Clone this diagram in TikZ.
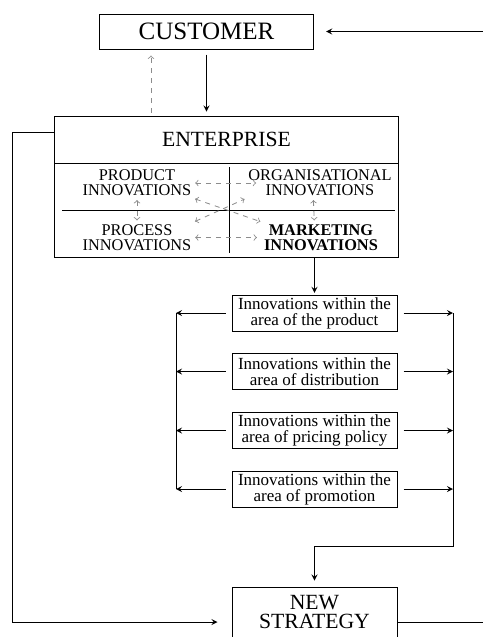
\documentclass[tikz,border=0pt]{standalone}
\usepackage{fontspec}
\setmainfont{Liberation Serif}
\usepackage{tikz}
\usetikzlibrary{arrows.meta}

\begin{document}
\begin{tikzpicture}[x = 0.6pt, y = -0.6pt, line width = 0.6pt,
    box/.style = {draw, align = center, inner sep = 0, minimum width = 99pt, minimum height = 21.6pt, font = \fontsize{10.2}{9.5}\selectfont},
    quad/.style = {align = center, inner sep = 1pt, font = \fontsize{9.8}{9.2}\selectfont},
    dasharr/.style = {draw = lgray, dashed, line width = 0.5pt, to-to, shorten < = 1pt, shorten > = 1pt}]
    \definecolor{lgray}{RGB}{140,140,140}
    \useasboundingbox (0,0) rectangle (483,637);
    \clip (0,0) rectangle (483,637);
    \node (ID_CUST)[draw, minimum width = 129pt, minimum height = 21pt, inner sep = 0, font = \fontsize{15}{15}\selectfont] at (206.5,31.5) {CUSTOMER};
    \node (ID_ENT)[draw, minimum width = 207pt, minimum height = 84.6pt, inner sep = 0] at (226.5,186.5) {};
    \node (ID_ENT_T)[inner sep = 0, font = \fontsize{13}{13}\selectfont] at (226.5,139) {ENTERPRISE};
    \draw (54,163) -- (399,163);
    \draw (62,210) -- (395,210);
    \draw (229,167) -- (229,253);
    \node (ID_PROD)[quad] at (137,183) {PRODUCT\\INNOVATIONS};
    \node (ID_ORG)[quad] at (320,183) {ORGANISATIONAL\\INNOVATIONS};
    \node (ID_PROC)[quad] at (137,237.5) {PROCESS\\INNOVATIONS};
    \node (ID_MARK)[quad, font = \fontsize{9.8}{9.2}\selectfont\bfseries] at (321,237.5) {MARKETING\\INNOVATIONS};
    \draw [dasharr] (ID_PROD.east) -- ([xshift = 7pt]ID_ORG.west);
    \draw [dasharr] (ID_PROC.east) -- ([xshift = -2pt]ID_MARK.west);
    \draw [dasharr] (ID_PROD.south) -- (ID_PROC.north);
    \draw [dasharr] ([xshift = -4pt]ID_ORG.south) -- ([xshift = -4pt]ID_MARK.north);
    \draw [dasharr] (ID_PROD.south east) -- (ID_MARK.north west);
    \draw [dasharr] (ID_PROC.north east) -- (ID_ORG.south west);
    \node (ID_B1)[box] at (314.5,313) {Innovations within the\\area of the product};
    \node (ID_B2)[box] at (314.5,371.5) {Innovations within the\\area of distribution};
    \node (ID_B3)[box] at (314.5,430.5) {Innovations within the\\area of pricing policy};
    \node (ID_B4)[box] at (314.5,489) {Innovations within the\\area of promotion};
    \node (ID_NS)[draw, minimum width = 99pt, minimum height = 42pt, inner sep = 0] at (314.5,622) {};
    \node (ID_NS_T)[align = center, inner sep = 0, font = \fontsize{13}{11.5}\selectfont] at (314.5,612) {NEW\\STRATEGY};
    \coordinate (c_in) at (483,31.5);
    \coordinate (c_out) at (483,622);
    \coordinate (c_up) at (151,116);
    \coordinate (c_fb) at (54,132);
    \coordinate (c_left) at (12,622);
    \coordinate (c_lv) at (176,313);
    \coordinate (c_rv) at (453,546);
    \draw [-stealth, shorten > = 7pt] (c_in) -- (ID_CUST.east);
    \draw [-stealth, shorten < = 3pt, shorten > = 2.4pt] (ID_CUST.south) -- (ID_CUST.south |- ID_ENT.north);
    \draw [-to, draw = lgray, dashed, line width = 0.5pt, shorten < = 2pt, shorten > = 3.6pt] (c_up) -- (c_up |- ID_CUST.south);
    \draw (c_fb) -| (c_left);
    \draw [-stealth, shorten > = 8.4pt] (c_left) -- (c_left -| ID_NS.west);
    \draw (ID_NS.east) -- (c_out);
    \draw [-stealth, shorten > = 1pt] (ID_ENT.south -| ID_B1.north) -- (ID_B1.north);
    \foreach \b in {B1,B2,B3,B4}{
        \draw [-stealth, shorten < = 3.6pt] (ID_\b.west) -- (ID_\b.west -| c_lv);
        \draw [-stealth, shorten < = 3.6pt] (ID_\b.east) -- (ID_\b.east -| c_rv);
    }
    \draw (c_lv |- ID_B1) -- (c_lv |- ID_B4);
    \draw [-stealth, shorten > = 3.6pt] (c_rv |- ID_B1) -- (c_rv) -| (ID_NS.north);
\end{tikzpicture}
\end{document}
